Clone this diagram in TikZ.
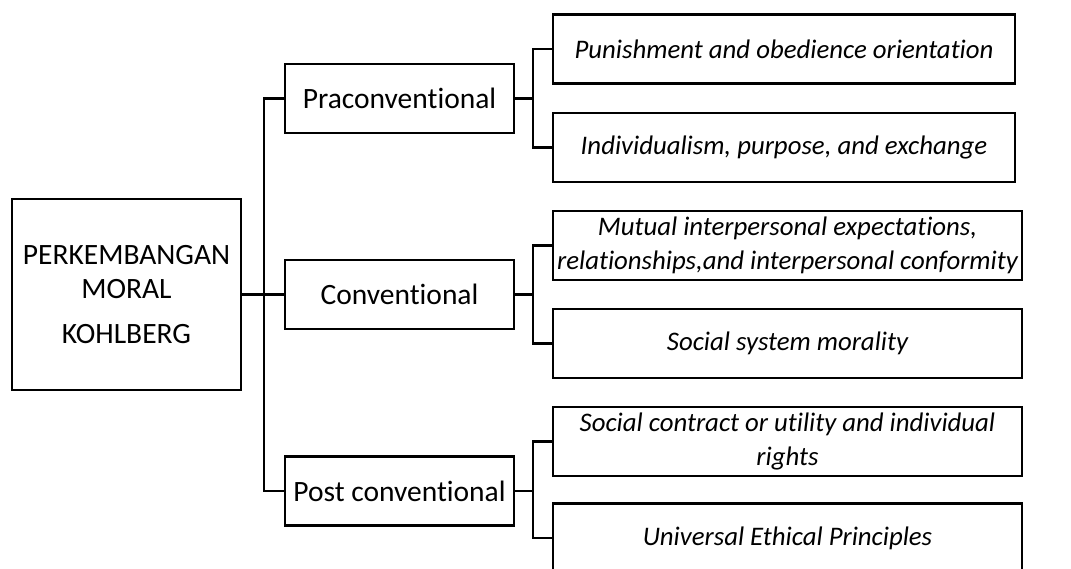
\documentclass[tikz,border=0pt]{standalone}
\usepackage{fontspec}
\setmainfont{Carlito}[Ligatures=NoCommon]

\tikzstyle{mainbox} = [rectangle, draw, line width=2.4pt, align=center,
    minimum width=229pt, minimum height=191pt, inner sep=0pt,
    font=\fontsize{29.5}{34}\selectfont]
\tikzstyle{stagebox} = [rectangle, draw, line width=2.4pt, align=center,
    minimum width=229pt, minimum height=69pt, inner sep=0pt,
    font=\fontsize{29.5}{34}\selectfont]
\tikzstyle{subbox} = [rectangle, draw, line width=2.4pt, align=center,
    minimum width=462pt, minimum height=69pt, inner sep=0pt,
    font=\fontsize{26.8}{34}\selectfont\itshape]
\tikzstyle{subboxw} = [rectangle, draw, line width=2.4pt, align=center,
    minimum width=469pt, minimum height=69pt, inner sep=0pt,
    font=\fontsize{26.8}{34}\selectfont\itshape]
\tikzstyle{link} = [draw, line width=2.4pt]

\begin{document}
\begin{tikzpicture}[x=1pt, y=-1pt]
	\useasboundingbox (0,0) rectangle (1071,568);
	\node [mainbox] (kohlberg) at (126.5,294.5) {PERKEMBANGAN\\MORAL\\[11pt]KOHLBERG};
	%
	\node [stagebox] (pra) at (399.5,98.5) {Praconventional};
	\node [stagebox] (conv) at (399.5,294.5) {Conventional};
	\node [stagebox] (post) at (399.5,491) {Post conventional};
	%
	\node [subbox] (punish) at (784,49) {Punishment and obedience orientation};
	\node [subbox] (indiv) at (784,147.5) {Individualism, purpose, and exchange};
	%
	\node [subboxw] (mutual) at (787.5,245.5) {Mutual interpersonal expectations,\\relationships,and interpersonal conformity};
	\node [subboxw] (social) at (787.5,343.5) {Social system morality};
	%
	\node [subboxw] (contract) at (787.5,441.5) {Social contract or utility and individual\\rights};
	\node [subboxw] (univ) at (787.5,538) {Universal Ethical Principles};
	%
	\draw [link] (kohlberg.east) -- (conv.west);
	\draw [link] (kohlberg.east) -- ++(22,0) |- (pra.west);
	\draw [link] (kohlberg.east) -- ++(22,0) |- (post.west);
	%
	\draw [link] (pra.east) -- ++(18,0) |- (punish.west);
	\draw [link] (pra.east) -- ++(18,0) |- (indiv.west);
	\draw [link] (conv.east) -- ++(18,0) |- (mutual.west);
	\draw [link] (conv.east) -- ++(18,0) |- (social.west);
	\draw [link] (post.east) -- ++(18,0) |- (contract.west);
	\draw [link] (post.east) -- ++(18,0) |- (univ.west);
\end{tikzpicture}
\end{document}
